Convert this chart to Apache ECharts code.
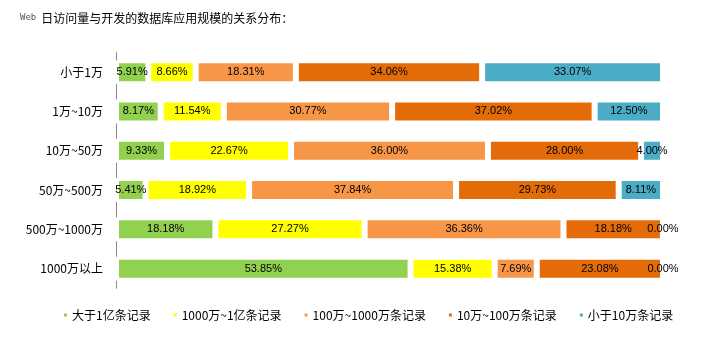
<!DOCTYPE html>
<html><head><meta charset="utf-8">
<script src="https://cdn.jsdelivr.net/npm/echarts@6/dist/echarts.min.js"></script>
<style>html,body{margin:0;padding:0;background:#fff}#c{width:719px;height:361px}</style>
</head><body><div id="c"></div>
<script>
const categories = ['小于1万', '1万~10万', '10万~50万', '50万~500万', '500万~1000万', '1000万以上'];
const seriesNames = ['大于1亿条记录', '1000万~1亿条记录', '100万~1000万条记录', '10万~100万条记录', '小于10万条记录'];
const s1 = [5.91, 8.17, 9.33, 5.41, 18.18, 53.85];
const s2 = [8.66, 11.54, 22.67, 18.92, 27.27, 15.38];
const s3 = [18.31, 30.77, 36.00, 37.84, 36.36, 7.69];
const s4 = [34.06, 37.02, 28.00, 29.73, 18.18, 23.08];
const s5 = [33.07, 12.50, 4.00, 8.11, 0.00, 0.00];
const colors = ['#92D050', '#FFFF00', '#F79646', '#E36C09', '#4BACC6'];
const allData = [s1, s2, s3, s4, s5];

const chart = echarts.init(document.getElementById('c'), null, {renderer: 'canvas'});
chart.setOption({
  animation: false,
  color: colors,
  title: {
    text: '{a|Web} {b|日访问量与开发的数据库应用规模的关系分布：}',
    left: 15, top: 4,
    textStyle: {
      fontWeight: 'normal',
      rich: {
        a: {fontFamily: 'DejaVu Sans Mono', fontSize: 9, color: '#555', fontWeight: 'normal'},
        b: {fontFamily: 'Noto Sans CJK SC', fontSize: 12, color: '#000', fontWeight: 'normal'}
      }
    }
  },
  legend: {
    bottom: 35, left: 57,
    itemWidth: 5, itemHeight: 5, itemGap: 21,
    icon: 'rect',
    textStyle: {fontFamily: 'Noto Sans CJK SC', fontSize: 12, color: '#000', padding: [0, 0, 0, -1]},
    data: seriesNames
  },
  grid: {left: 116, right: 56, top: 52.5, bottom: 72.7, containLabel: false},
  xAxis: {type: 'value', min: 0, max: 100, show: false},
  yAxis: {
    type: 'category', data: categories, inverse: true,
    axisLine: {show: true, lineStyle: {color: '#888', width: 1}},
    axisTick: {show: false},
    axisLabel: {fontFamily: 'Noto Sans CJK SC', fontSize: 12, color: '#000', margin: 13}
  },
  series: allData.map((d, i) => ({
    name: seriesNames[i], type: 'bar', stack: 'total', barWidth: 24,
    data: d,
    itemStyle: {color: colors[i], borderColor: '#fff', borderWidth: 3},
    label: {
      show: true, position: 'inside', color: '#000',
      fontFamily: 'Liberation Sans', fontSize: 11,
      formatter: p => p.value.toFixed(2) + '%'
    }
  }))
});
</script></body></html>
